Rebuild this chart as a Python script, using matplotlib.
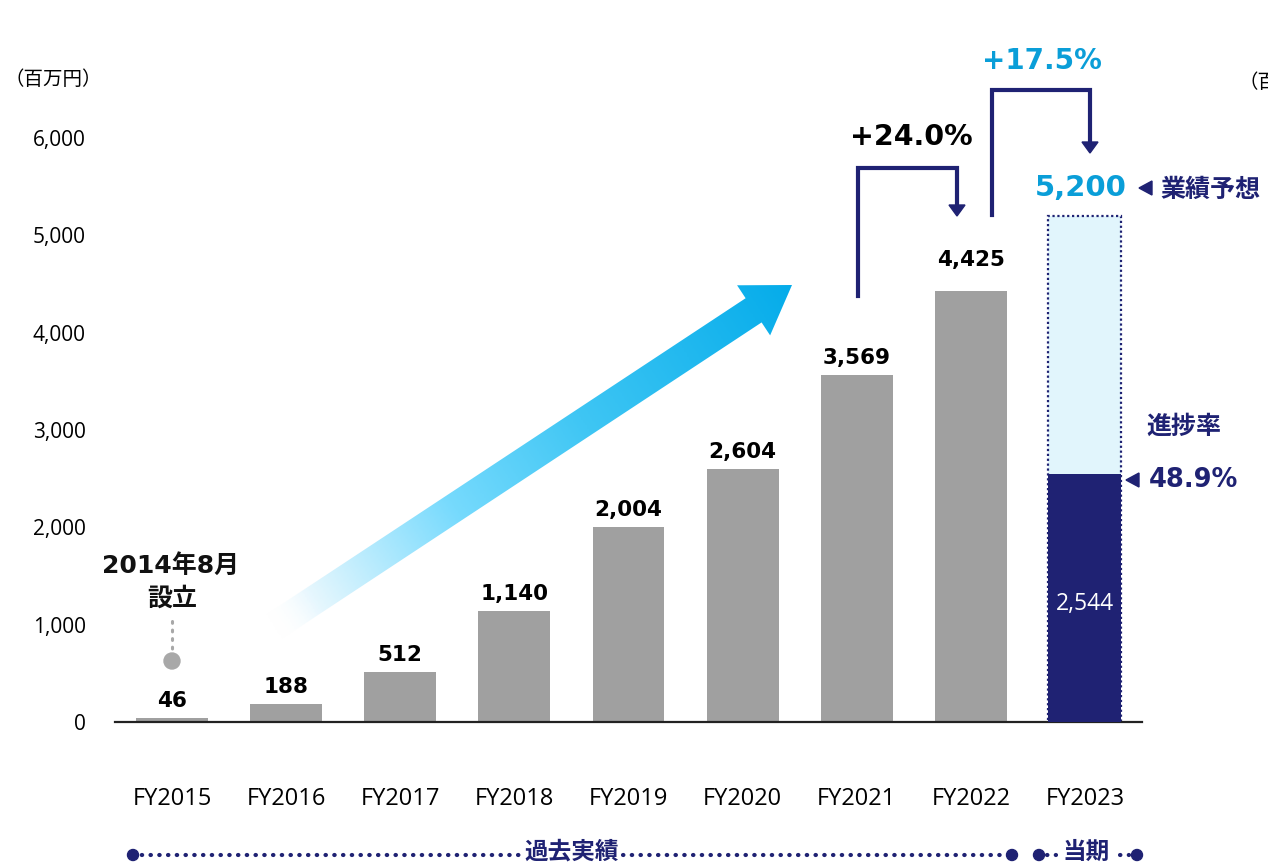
import numpy as np
import matplotlib
matplotlib.use('Agg')
import matplotlib.pyplot as plt
from matplotlib.patches import Polygon, Circle
from matplotlib.colors import LinearSegmentedColormap

plt.rcParams['font.family'] = ['Open Sans', 'Noto Sans CJK JP']
BOLDFAM = ['DejaVu Sans', 'Noto Sans CJK JP']
CJK = ['Noto Sans CJK JP', 'DejaVu Sans']

# ---------------- data ----------------
years = ['FY2015', 'FY2016', 'FY2017', 'FY2018', 'FY2019',
         'FY2020', 'FY2021', 'FY2022', 'FY2023']
actual = [46, 188, 512, 1140, 2004, 2604, 3569, 4425]
forecast_2023 = 5200
progress_2023 = 2544
progress_rate = '48.9%'
growth_2022 = '+24.0%'
growth_2023 = '+17.5%'
yticks = [0, 1000, 2000, 3000, 4000, 5000, 6000]
unit_label = '（百万円）'

NAVY = '#1F2273'
CYAN = '#0A9ED8'
GRAY = '#A0A0A0'
LIGHT = '#E1F5FC'

W, H = 1268, 865
fig = plt.figure(figsize=(W / 100, H / 100), dpi=100)

# overlay axes in pixel coordinates (decorations)
ov = fig.add_axes([0, 0, 1, 1], zorder=0)
ov.set_xlim(0, W)
ov.set_ylim(H, 0)
ov.axis('off')

# main chart axes
ax = fig.add_axes([115 / W, (H - 722) / H, (1142 - 115) / W, (722 - 138) / H], zorder=1)
ax.patch.set_alpha(0)
ax.set_xlim(-0.5, 8.5)
ax.set_ylim(0, 6000)
x = np.arange(len(years))

ax.bar(x[:len(actual)], actual, width=0.63, color=GRAY, zorder=2)
ax.bar(x[-1], forecast_2023, width=0.64, color=LIGHT, edgecolor=NAVY,
       linestyle=(0, (1, 1.2)), linewidth=1.6, zorder=2)
ax.bar(x[-1], progress_2023, width=0.64, color=NAVY, zorder=3)

for i, v in enumerate(actual):
    off = 15 if i == len(actual) - 1 else 5
    ax.annotate(f'{v:,}', (x[i], v), xytext=(0, off), textcoords='offset points',
                ha='center', va='bottom', fontsize=15.5, fontweight='bold',
                color='black', family=BOLDFAM)
ax.text(x[-1], 1215, f'{progress_2023:,}', ha='center', va='center',
        fontsize=16.5, color='white', zorder=4)

for s in ['top', 'right', 'left']:
    ax.spines[s].set_visible(False)
ax.spines['bottom'].set_linewidth(1.6)
ax.spines['bottom'].set_color('#222222')
ax.set_yticks(yticks)
ax.set_yticklabels([f'{t:,}' for t in yticks], fontsize=15)
ax.set_xticks(x)
ax.set_xticklabels(years, fontsize=17)
ax.tick_params(axis='y', length=0, pad=21)
ax.tick_params(axis='x', length=0, pad=47)

# unit labels (the right one is cut by the edge, as in the source)
ov.text(5, 80, unit_label, fontsize=14, ha='left', va='center')
ov.text(1238, 83, unit_label, fontsize=14, ha='left', va='center')

# gradient arrow
T = np.array([272.0, 628.0])
P = np.array([792.0, 285.0])
d = P - T
L = np.hypot(*d)
u = d / L
n = np.array([-u[1], u[0]])
hw, hh, hl = 14.5, 30.0, 46.0
B = P - u * hl
pts = [T + n * hw, B + n * hw, B + n * hh, P, B - n * hh, B - n * hw, T - n * hw]
poly = Polygon(pts, closed=True, facecolor='none', edgecolor='none')
ov.add_patch(poly)
xs = np.linspace(240, 810, 300)
ys = np.linspace(260, 680, 250)
X, Y = np.meshgrid(xs, ys)
vals = ((X - T[0]) * u[0] + (Y - T[1]) * u[1]) / L
vals = np.clip(vals, 0, 1)
cmap = LinearSegmentedColormap.from_list(
    'arr', [(0, (1, 1, 1, 0.0)), (0.08, '#e6f7fe'), (0.35, '#76dafd'),
            (0.6, '#3fc6f4'), (1.0, '#05acea')])
im = ov.imshow(vals, extent=(xs[0], xs[-1], ys[-1], ys[0]), origin='upper',
               cmap=cmap, vmin=0, vmax=1, aspect='auto', interpolation='bilinear')
im.set_clip_path(poly)
ov.set_xlim(0, W)
ov.set_ylim(H, 0)

# founding annotation
ov.text(171, 566, '2014年8月', fontsize=18, fontweight='bold', ha='center', va='center',
        color='#111111', family=BOLDFAM)
ov.text(172, 599, '設立', fontsize=18, fontweight='bold', ha='center', va='center',
        color='#111111', family=CJK)
ov.plot([172, 172], [621, 652], color='#A8A8A8', lw=2.2, linestyle=(0, (0.6, 2.2)),
        dash_capstyle='round')
ov.add_patch(Circle((172, 661), 8, color='#A8A8A8'))

# growth brackets
def bracket(x0, y0, ytop, x1, ytip):
    ov.plot([x0, x0, x1, x1], [y0, ytop, ytop, ytip - 10], color=NAVY, lw=3,
            solid_joinstyle='miter')
    ov.add_patch(Polygon([(x1 - 8, ytip - 11), (x1 + 8, ytip - 11), (x1, ytip)],
                         closed=True, color=NAVY))

bracket(858, 296, 168, 957, 216)
bracket(992, 215, 90, 1090, 153)
ov.text(911, 137, growth_2022, fontsize=20.5, fontweight='bold', ha='center',
        va='center', color='black', family=BOLDFAM)
ov.text(1042, 61, growth_2023, fontsize=20, fontweight='bold', ha='center',
        va='center', color=CYAN, family=BOLDFAM)

# forecast label
ov.text(1081, 188, f'{forecast_2023:,}', fontsize=21, fontweight='bold', ha='center',
        va='center', color=CYAN, family=BOLDFAM)
ov.add_patch(Polygon([(1139, 188), (1152, 181), (1152, 195)], closed=True, color=NAVY))
ov.text(1160, 190, '業績予想', fontsize=18, fontweight='bold', ha='left', va='center',
        color=NAVY, family=CJK)

# progress rate
ov.text(1184, 427, '進捗率', fontsize=18, fontweight='bold', ha='center', va='center',
        color=NAVY, family=CJK)
ov.add_patch(Polygon([(1126, 480), (1139, 473), (1139, 487)], closed=True, color=NAVY))
ov.text(1149, 480, progress_rate, fontsize=18.5, fontweight='bold', ha='left',
        va='center', color=NAVY, family=BOLDFAM)

# period line at bottom
yl = 855
dots = dict(color=NAVY, lw=3, linestyle=(0, (0.1, 2.0)), dash_capstyle='round')
ov.plot([133, 1012], [yl, yl], **dots)
ov.add_patch(Circle((133, yl), 5.5, color=NAVY))
ov.add_patch(Circle((1012, yl), 5.5, color=NAVY))
ov.text(572, 852, '過去実績', fontsize=17, fontweight='bold', ha='center', va='center',
        color=NAVY, family=CJK, bbox=dict(facecolor='white', edgecolor='none', pad=1))
ov.add_patch(Circle((1039, yl), 5.5, color=NAVY))
ov.add_patch(Circle((1137, yl), 5.5, color=NAVY))
ov.plot([1047, 1056], [yl, yl], **dots)
ov.plot([1120, 1129], [yl, yl], **dots)
ov.text(1086, 852, '当期', fontsize=17, fontweight='bold', ha='center', va='center',
        color=NAVY, family=CJK)

fig.savefig('out.png', dpi=100)
